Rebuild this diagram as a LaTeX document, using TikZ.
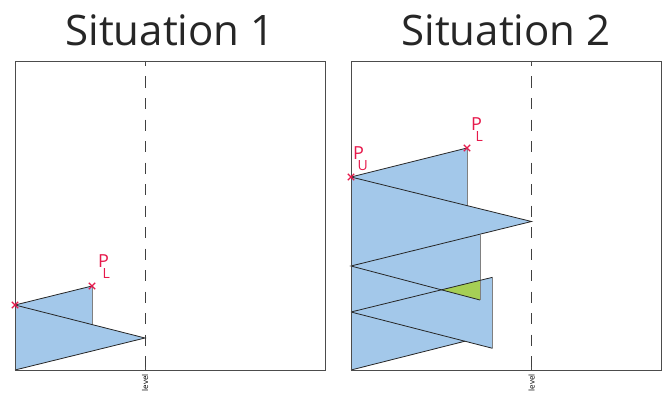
\documentclass[tikz,border=0pt]{standalone}
\usepackage{fontspec}
\setmainfont{Open Sans}
\usetikzlibrary{shapes.misc,calc,intersections}

\definecolor{layerblue}{HTML}{A3C8EA}
\definecolor{overlapgreen}{HTML}{A6CF55}
\definecolor{pointred}{HTML}{E6194B}

\newcommand{\psub}[1]{P\kern-0.36em\raisebox{-0.62em}{\fontsize{14}{14}\selectfont #1}}

\begin{document}
\begin{tikzpicture}[
    x=1pt, y=-1pt,
    frame/.style={draw=black!70, line width=0.9pt},
    levelline/.style={draw=black!75, line width=0.9pt, dash pattern=on 11pt off 10.5pt, dash phase=6pt},
    edge/.style={draw=black!85, line width=0.8pt},
    riser/.style={draw=black!50, line width=0.9pt},
    title/.style={font=\fontsize{42}{42}\selectfont, text=black!85, anchor=base, inner sep=0pt},
    pcross/.style={cross out, draw=pointred, line width=1.3pt, minimum size=5pt, inner sep=0pt},
    plabel/.style={text=pointred, font=\fontsize{18}{18}\selectfont, inner sep=0pt, anchor=south west},
    levellabel/.style={font=\fontsize{8}{8}\selectfont, rotate=90, anchor=east, inner sep=1pt}
]
    \useasboundingbox (0,0) rectangle (664,396);

    % Titles
    \node[title] (title1) at (170,46) {Situation 1};
    \node[title] (title2) at (506,46) {Situation 2};

    % Situation 1
    \coordinate (p1) at (15,305);
    \coordinate (pl1) at (92,286);
    \coordinate (k1) at (92,324.5);
    \coordinate (t1) at (145,338);
    \coordinate (b1) at (15,370);
    \fill[layerblue] (p1) -- (pl1) -- (k1) -- (t1) -- (b1) -- cycle;
    \draw[edge] (p1) -- (pl1);
    \draw[riser] (pl1) -- (k1);
    \draw[edge] (p1) -- (t1) -- (b1);
    \draw[frame] (15,61) rectangle (325,370);
    \coordinate (lvl1top) at (145,61);
    \coordinate (lvl1bot) at (145,370);
    \draw[levelline] (lvl1top) -- (lvl1bot);
    \draw[frame] (lvl1top) -- ++(0,3);
    \draw[frame] (lvl1bot) -- ++(0,-3);
    \node[levellabel] (lvl1) at (145,373) {level};
    \node[pcross] (pcross1) at (p1) {};
    \node[pcross] (plcross1) at (pl1) {};
    \node[plabel] (pllab1) at (98,279) {\psub{L}};

    % Situation 2
    \coordinate (pu) at (351,177);
    \coordinate (pl2) at (467,148);
    \coordinate (k2) at (467,205.6);
    \coordinate (t2) at (531.5,221.5);
    \coordinate (m2) at (351,266);
    \coordinate (j2) at (480,234.2);
    \coordinate (r2) at (480,300);
    \coordinate (n2) at (351,312);
    \coordinate (s2) at (492.5,277.3);
    \coordinate (g2) at (480,280.4);
    \coordinate (v2) at (492.5,348.3);
    \coordinate (h2) at (465,341.2);
    \coordinate (b2) at (351,370);
    \path[name path=upper] (m2) -- (r2);
    \path[name path=lower] (n2) -- (s2);
    \path[name intersections={of=upper and lower, by=x2}];
    \fill[layerblue] (pu) -- (pl2) -- (k2) -- (t2) -- (j2) -- (g2) -- (s2) -- (v2) -- (h2) -- (b2) -- cycle;
    \fill[overlapgreen] (x2) -- (g2) -- (r2) -- cycle;
    \draw[edge] (pu) -- (pl2);
    \draw[riser] (pl2) -- (k2);
    \draw[edge] (pu) -- (t2) -- (m2) -- (r2);
    \draw[riser] (j2) -- (r2);
    \draw[edge] (n2) -- (s2);
    \draw[riser] (s2) -- (v2);
    \draw[edge] (v2) -- (n2);
    \draw[edge] (b2) -- (h2);
    \draw[frame] (351,61) rectangle (661,370);
    \coordinate (lvl2top) at (531.5,61);
    \coordinate (lvl2bot) at (531.5,370);
    \draw[levelline] (lvl2top) -- (lvl2bot);
    \draw[frame] (lvl2top) -- ++(0,3);
    \draw[frame] (lvl2bot) -- ++(0,-3);
    \node[levellabel] (lvl2) at (531.5,373) {level};
    \node[pcross] (pucross) at (pu) {};
    \node[pcross] (plcross2) at (pl2) {};
    \node[plabel] (pulab) at (353,171) {\psub{U}};
    \node[plabel] (pllab2) at (471,142) {\psub{L}};
\end{tikzpicture}
\end{document}
